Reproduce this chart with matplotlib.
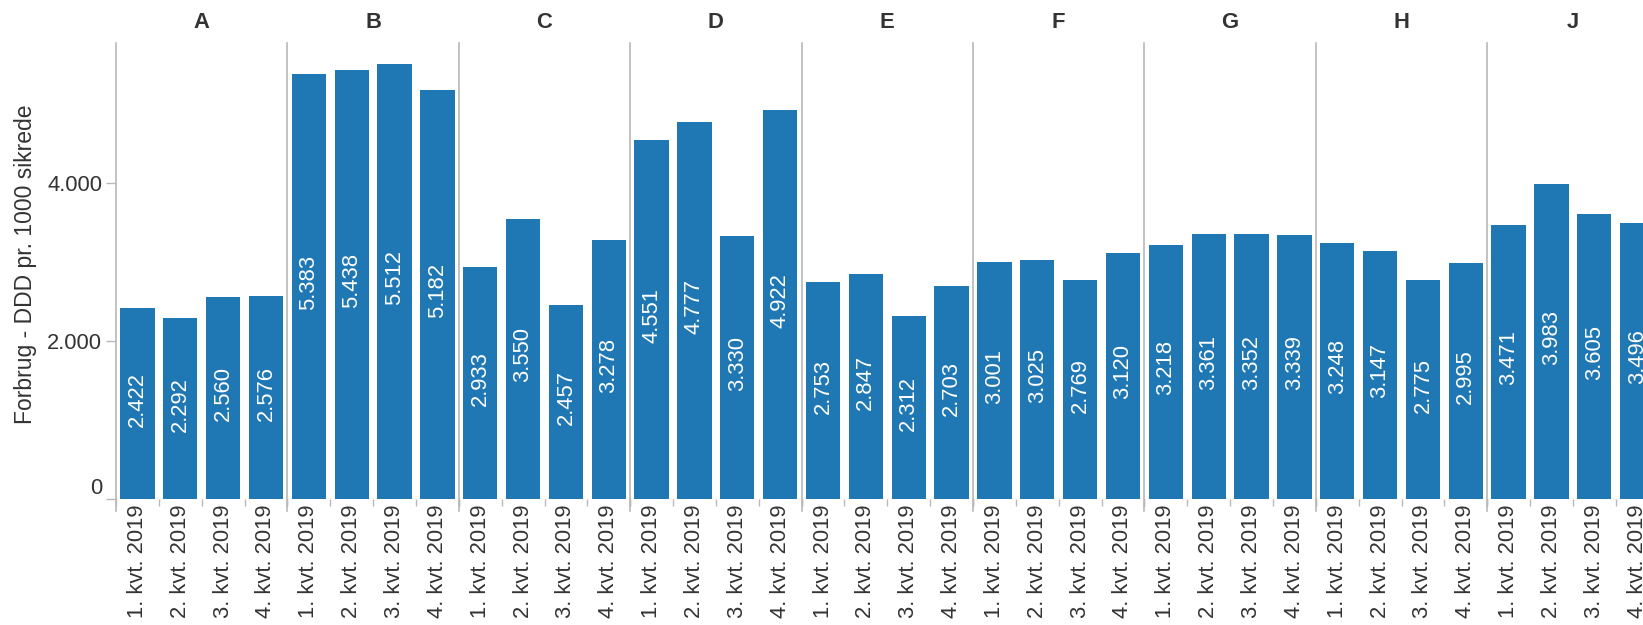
import matplotlib
matplotlib.use("Agg")
import matplotlib.pyplot as plt

plt.rcParams['font.family'] = ['Liberation Sans', 'DejaVu Sans']

# facets and quarters
groups = ["A", "B", "C", "D", "E", "F", "G", "H", "J"]
quarters = ["1. kvt. 2019", "2. kvt. 2019", "3. kvt. 2019", "4. kvt. 2019"]

# DDD per 1000 insured, one list per facet
values_A = [2422, 2292, 2560, 2576]
values_B = [5383, 5438, 5512, 5182]
values_C = [2933, 3550, 2457, 3278]
values_D = [4551, 4777, 3330, 4922]
values_E = [2753, 2847, 2312, 2703]
values_F = [3001, 3025, 2769, 3120]
values_G = [3218, 3361, 3352, 3339]
values_H = [3248, 3147, 2775, 2995]
values_J = [3471, 3983, 3605, 3496]
all_values = [values_A, values_B, values_C, values_D, values_E,
              values_F, values_G, values_H, values_J]

yticks = [0, 2000, 4000]
ytick_labels = ["0", "2.000", "4.000"]

BLUE = "#1f77b4"
GRID = "#b8b8b8"
TXT = "#333333"
FS = 15.8

W, H = 1643, 625
fig = plt.figure(figsize=(W / 100, H / 100), dpi=100)

left_px = 116
panel_px = 171.4
bottom = 1 - 499 / H
height = (499 - 43) / H

def fmt(v):
    return "{:,}".format(v).replace(",", ".")

for i, (g, vals) in enumerate(zip(groups, all_values)):
    ax = fig.add_axes([(left_px + i * panel_px) / W, bottom, panel_px / W, height])
    xs = range(len(quarters))
    ax.bar(xs, vals, width=0.8, color=BLUE, zorder=2)
    for x, v in zip(xs, vals):
        ax.annotate(fmt(v), (x, v / 2), xytext=(0, 3), textcoords="offset points",
                    rotation=90, ha="center", va="center", color="white", fontsize=FS)
    ax.set_xlim(-0.5, 3.5)
    ax.set_ylim(0, 5775)
    ax.axhline(0, color="#c8c8c8", lw=1, ls=":", zorder=1)

    for s in ["top", "right", "bottom"]:
        ax.spines[s].set_visible(False)
    ax.spines["left"].set_color(GRID)
    ax.spines["left"].set_linewidth(1.2)
    ax.spines["left"].set_bounds(-150, 5775)

    # quarter labels and band ticks
    ax.set_xticks(list(xs))
    ax.set_xticklabels(quarters, rotation=90, fontsize=FS, color=TXT)
    ax.tick_params(axis="x", which="major", length=0, pad=4)
    ax.set_xticks([-0.5, 0.5, 1.5, 2.5, 3.5], minor=True)
    ax.tick_params(axis="x", which="minor", length=5, color=GRID, width=1)

    if i == 0:
        ax.set_yticks(yticks)
        ax.set_yticklabels(ytick_labels, fontsize=FS, color=TXT)
        ax.tick_params(axis="y", length=7, color=GRID, width=1, pad=3)
        ax.get_yticklabels()[0].set_va("bottom")
    else:
        ax.set_yticks([])

    fig.text((left_px + (i + 0.5) * panel_px) / W, 1 - 23 / H, g,
             ha="center", va="center", fontsize=FS, fontweight="bold", color=TXT)

fig.text(26 / W, bottom + height / 2 + 0.01, "Forbrug - DDD pr. 1000 sikrede",
         rotation=90, ha="center", va="center", fontsize=16.5, color=TXT)

fig.savefig("out.png", dpi=100)
